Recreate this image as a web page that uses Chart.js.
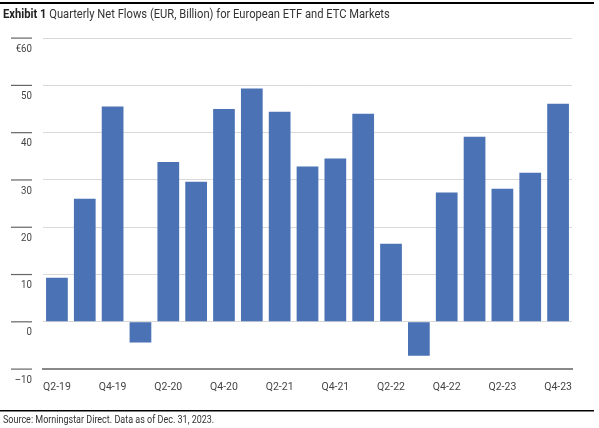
<!DOCTYPE html>
<html><head><meta charset="utf-8">
<script src="https://cdn.jsdelivr.net/npm/chart.js@4/dist/chart.umd.min.js"></script>
<style>html,body{margin:0;padding:0;background:#fff}#wrap{width:599px;height:428px;position:relative}</style>
</head><body><div id="wrap"><canvas id="c" width="599" height="428"></canvas></div>
<script>
const categories = ['Q2-19','Q3-19','Q4-19','Q1-20','Q2-20','Q3-20','Q4-20','Q1-21','Q2-21','Q3-21','Q4-21','Q1-22','Q2-22','Q3-22','Q4-22','Q1-23','Q2-23','Q3-23','Q4-23'];
const netFlows = [9.3, 26, 45.5, -4.4, 33.8, 29.6, 45, 49.3, 44.4, 32.8, 34.5, 44, 16.5, -7.2, 27.3, 39.1, 28.1, 31.5, 46.1];
const yTickLabels = {60:'€60',50:'50',40:'40',30:'30',20:'20',10:'10',0:'0','-10':'–10'};
const FONT = '"Liberation Sans Narrow","Roboto","Liberation Sans",sans-serif';

const deco = {
  id:'deco',
  afterDraw(chart){
    const ctx = chart.ctx, y = chart.scales.y;
    ctx.save();
    ctx.fillStyle='#000';ctx.fillRect(0,2,594,2);
    ctx.fillRect(0,410,594,1.5);
    ctx.textBaseline='middle';
    ctx.save();ctx.translate(3,15);ctx.scale(0.86,1);
    ctx.font='bold 13px '+FONT;ctx.fillStyle='#222';
    ctx.fillText('Exhibit 1',0,0);
    const w=ctx.measureText('Exhibit 1 ').width;
    ctx.font='13px '+FONT;ctx.fillStyle='#333';
    ctx.fillText('Quarterly Net Flows (EUR, Billion) for European ETF and ETC Markets',w,0);
    ctx.restore();
    ctx.save();ctx.translate(3,420);ctx.scale(0.9,1);
    ctx.font='10px '+FONT;ctx.fillStyle='#333';
    ctx.fillText('Source: Morningstar Direct. Data as of Dec. 31, 2023.',0,0);
    ctx.restore();
    ctx.textAlign='right';ctx.font='11px '+FONT;
    y.ticks.forEach(t=>{
      const py=y.getPixelForValue(t.value);
      ctx.fillStyle='#666';ctx.fillRect(11,py-0.5,21,1.2);
      ctx.save();ctx.translate(32,py+11);ctx.scale(0.88,1);
      ctx.fillStyle='#444';ctx.fillText(yTickLabels[t.value]??'',0,0);
      ctx.restore();
    });
    ctx.restore();
  }
};

new Chart(document.getElementById('c'),{
  type:'bar',
  data:{labels:categories,datasets:[{data:netFlows,backgroundColor:'#4a72b5',barPercentage:0.78,categoryPercentage:1}]},
  options:{
    responsive:false,animation:false,
    layout:{padding:{left:0,right:27,top:38,bottom:0}},
    plugins:{legend:{display:false},tooltip:{enabled:false}},
    scales:{
      x:{grid:{display:false},border:{color:'#888',width:2},
         ticks:{color:'#444',font:{family:FONT,size:10.5},maxRotation:0,autoSkip:false,padding:4,
           callback:(v,i)=>i%2===0?categories[i]:''},
         afterFit(s){s.height=59;}},
      y:{min:-10,max:60,grid:{color:'#d9d9d9',drawTicks:false},border:{display:false},
         ticks:{stepSize:10,display:false},
         afterFit(s){s.width=43;}}
    }
  },
  plugins:[deco]
});
</script></body></html>
